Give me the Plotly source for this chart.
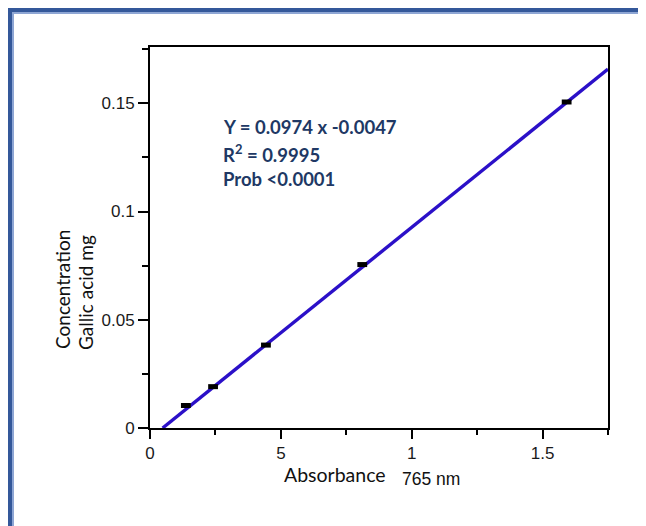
import plotly.graph_objects as go

# Data
absorbance = [0.137, 0.241, 0.443, 0.811, 1.592]
concentration = [0.0104, 0.0191, 0.0383, 0.0755, 0.1506]

slope = 0.0974
intercept = -0.0047
x_max = 1.75

x_tick_vals = [0, 0.5, 1, 1.5]
x_tick_text = ["0", "5", "1", "1.5"]
y_tick_vals = [0, 0.05, 0.1, 0.15]
y_tick_text = ["0", "0.05", "0.1", "0.15"]

eq_lines = ["Y = 0.0974 x -0.0047", "R<sup>2</sup> = 0.9995", "Prob <0.0001"]

# page geometry (the page body adds an 8px offset)
OFF = 8
PAGE_W, PAGE_H = 646, 526
W, H = PAGE_W - OFF, PAGE_H - OFF
PL, PR, PT, PB = 150, 608, 47, 428  # plot area in page pixels
L, T = PL - OFF, PT - OFF
R, B = W - (PR - OFF), H - (PB - OFF)
pw, ph = PR - PL, PB - PT


def px(x):
    return (x - PL) / pw


def py(y):
    return (PB - y) / ph


line_x = [-intercept / slope, x_max]
line_y = [slope * v + intercept for v in line_x]

fig = go.Figure()
fig.add_trace(go.Scatter(x=line_x, y=line_y, mode="lines",
                         line=dict(color="#2B10C8", width=3.4),
                         showlegend=False, hoverinfo="skip"))
fig.add_trace(go.Scatter(x=absorbance, y=concentration, mode="markers",
                         marker=dict(symbol="line-ew", size=7,
                                     line=dict(color="black", width=5)),
                         showlegend=False))

tickfont = dict(family="Liberation Sans, Arial, sans-serif", size=17, color="#1a1a1a")
fig.update_xaxes(range=[0, x_max], tickvals=x_tick_vals, ticktext=x_tick_text,
                 ticks="outside", ticklen=9, tickwidth=1.5, tickcolor="black",
                 minor=dict(dtick=0.25, tick0=0, ticks="outside", ticklen=5, tickwidth=1.5, tickcolor="black"),
                 showline=True, linecolor="black", linewidth=2, mirror=True,
                 showgrid=False, zeroline=False, tickfont=tickfont)
fig.update_yaxes(range=[0, 0.176], tickvals=y_tick_vals, ticktext=y_tick_text,
                 ticks="outside", ticklen=10, tickwidth=1.5, tickcolor="black",
                 minor=dict(dtick=0.025, tick0=0, ticks="outside", ticklen=6, tickwidth=1.5, tickcolor="black"),
                 showline=True, linecolor="black", linewidth=2, mirror=True,
                 showgrid=False, zeroline=False, tickfont=tickfont)

annotations = []
eq_color = "#203864"
for text, ypix in zip(eq_lines, [127, 153, 179]):
    annotations.append(dict(x=px(221), y=py(ypix), xref="paper", yref="paper",
                            text="<b>" + text + "</b>", showarrow=False,
                            xanchor="left", yanchor="middle",
                            font=dict(family="Lato, sans-serif", size=18.5, color=eq_color)))
annotations.append(dict(x=px(335), y=py(474), xref="paper", yref="paper",
                        text="Absorbance", showarrow=False, xanchor="center", yanchor="middle",
                        font=dict(family="Lato, sans-serif", size=19.5, color="#111")))
annotations.append(dict(x=px(431), y=py(479), xref="paper", yref="paper",
                        text="765 nm", showarrow=False, xanchor="center", yanchor="middle",
                        font=dict(family="Liberation Sans, Arial, sans-serif", size=17.5, color="#111")))
annotations.append(dict(x=px(62), y=py(290), xref="paper", yref="paper",
                        text="Concentration", showarrow=False, textangle=-90,
                        xanchor="center", yanchor="middle",
                        font=dict(family="Lato, sans-serif", size=19, color="#111")))
annotations.append(dict(x=px(85), y=py(293), xref="paper", yref="paper",
                        text="Gallic acid mg", showarrow=False, textangle=-90,
                        xanchor="center", yanchor="middle",
                        font=dict(family="Lato, sans-serif", size=19, color="#111")))

shapes = [
    # blue frame: left and top bands
    dict(type="rect", xref="paper", yref="paper", x0=px(7), x1=px(12), y0=py(7), y1=py(PAGE_H + 5),
         fillcolor="#34589A", line=dict(width=0), layer="above"),
    dict(type="rect", xref="paper", yref="paper", x0=px(7), x1=px(PAGE_W + 5), y0=py(7), y1=py(12),
         fillcolor="#34589A", line=dict(width=0), layer="above"),
    dict(type="rect", xref="paper", yref="paper", x0=px(12), x1=px(14), y0=py(12), y1=py(PAGE_H + 5),
         fillcolor="#8EA6D4", line=dict(width=0), layer="above"),
    dict(type="rect", xref="paper", yref="paper", x0=px(12), x1=px(PAGE_W + 5), y0=py(12), y1=py(14),
         fillcolor="#8EA6D4", line=dict(width=0), layer="above"),
]

fig.update_layout(width=W, height=H, margin=dict(l=L, r=R, t=T, b=B),
                  paper_bgcolor="white", plot_bgcolor="white",
                  annotations=annotations, shapes=shapes, showlegend=False)

fig.write_html("out.html")
